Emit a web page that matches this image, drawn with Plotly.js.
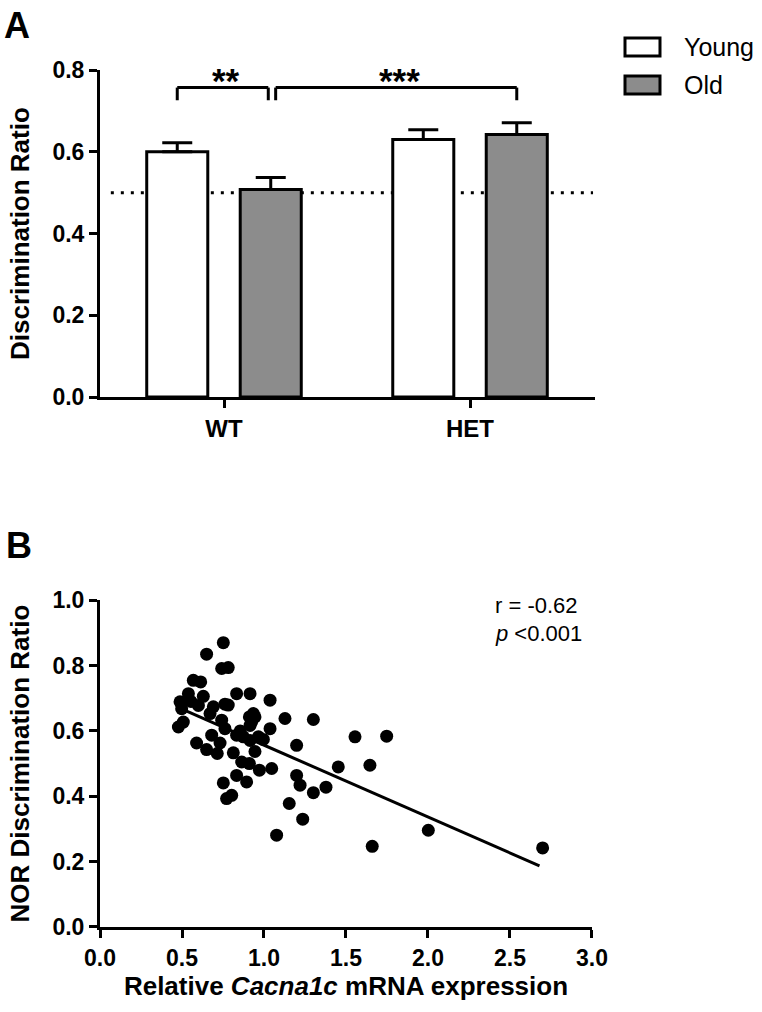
<!DOCTYPE html>
<html>
<head>
<meta charset="utf-8">
<script src="https://cdn.plot.ly/plotly-3.0.1.min.js"></script>
<style>html,body{margin:0;padding:0;background:#fff}#chart{width:762px;height:1012px}</style>
</head>
<body>
<div id="chart"></div>
<script>
// ---- Panel A data ----
const genotypes = ['WT', 'HET'];
const youngMean = [0.600, 0.630];
const youngSem  = [0.022, 0.024];
const oldMean   = [0.508, 0.642];
const oldSem    = [0.029, 0.029];
const chanceLevel = 0.5;

// ---- Panel B data ----
const mrnaX = [0.752,0.650,0.742,0.782,0.569,0.614,0.488,0.539,0.630,0.498,0.600,0.478,0.508,0.691,0.671,0.762,0.782,0.833,0.915,1.037,
  0.742,0.762,0.911,0.935,0.945,0.915,1.037,1.128,1.301,0.589,0.681,0.732,0.650,0.715,0.833,0.874,0.915,0.966,0.996,0.813,
  0.945,0.864,0.911,0.972,1.047,1.199,0.833,0.894,0.752,0.772,0.803,1.199,1.220,1.301,1.378,1.154,1.236,1.453,1.555,1.646,
  1.748,1.077,2.002,1.660,2.699,0.925,0.555,0.855];
const norY  = [0.870,0.835,0.791,0.794,0.755,0.750,0.689,0.714,0.706,0.668,0.678,0.612,0.627,0.674,0.653,0.682,0.679,0.714,0.714,0.694,
  0.633,0.607,0.643,0.653,0.643,0.617,0.607,0.638,0.635,0.563,0.587,0.563,0.543,0.531,0.587,0.582,0.571,0.582,0.574,0.533,
  0.537,0.505,0.500,0.480,0.485,0.556,0.464,0.444,0.441,0.393,0.403,0.464,0.434,0.411,0.428,0.378,0.330,0.490,0.582,0.495,
  0.584,0.281,0.296,0.247,0.242,0.628,0.690,0.600];
const fitX = [0.48, 2.68];
const fitY = [0.671, 0.187];
const rText = 'r = -0.62';
const pText = '<i>p</i> &lt;0.001';

const FONT = 'Liberation Sans, Arial, sans-serif';
const GRAY = '#8c8c8c';

const traces = [
  {type:'bar', name:'Young', x:genotypes, y:youngMean, xaxis:'x', yaxis:'y',
   marker:{color:'#ffffff', line:{color:'#000', width:3}},
   error_y:{type:'data', array:youngSem, arrayminus:[0,0], symmetric:false, color:'#000', thickness:3, width:15},
   showlegend:false},
  {type:'bar', name:'Old', x:genotypes, y:oldMean, xaxis:'x', yaxis:'y',
   marker:{color:GRAY, line:{color:'#000', width:3}},
   error_y:{type:'data', array:oldSem, arrayminus:[0,0], symmetric:false, color:'#000', thickness:3, width:15},
   showlegend:false},
  {type:'scatter', mode:'markers', x:mrnaX, y:norY, xaxis:'x2', yaxis:'y2',
   marker:{color:'#000', size:13}, showlegend:false},
  {type:'scatter', mode:'lines', x:fitX, y:fitY, xaxis:'x2', yaxis:'y2',
   line:{color:'#000', width:3}, showlegend:false}
];

const tickF = {family:FONT, size:23, color:'#000', weight:'bold'};
const titleF = {family:FONT, size:26, color:'#000', weight:'bold'};

function bracket(x0, x1, yTop, yBot){
  const ln = {color:'#000', width:3};
  return [
    {type:'line', xref:'x', yref:'y', x0:x0, x1:x0, y0:yBot, y1:yTop, line:ln},
    {type:'line', xref:'x', yref:'y', x0:x0, x1:x1, y0:yTop, y1:yTop, line:ln},
    {type:'line', xref:'x', yref:'y', x0:x1, x1:x1, y0:yTop, y1:yBot, line:ln}
  ];
}

const shapes = [
  {type:'line', layer:'below', xref:'x', yref:'y', x0:-0.46, x1:1.5, y0:chanceLevel, y1:chanceLevel,
   line:{color:'#000', width:3, dash:'3px,7px'}},
  ...bracket(-0.19, 0.18, 0.757, 0.726),
  ...bracket(0.21, 1.19, 0.757, 0.726),
  // legend boxes
  {type:'rect', xref:'paper', yref:'paper', x0:1.0606, x1:1.1313, y0:1.0163, y1:1.0373,
   fillcolor:'#fff', line:{color:'#000', width:3}},
  {type:'rect', xref:'paper', yref:'paper', x0:1.0606, x1:1.1313, y0:0.9720, y1:0.9930,
   fillcolor:GRAY, line:{color:'#000', width:3}}
];

const annotations = [
  {text:'<b>A</b>', xref:'paper', yref:'paper', x:-0.198, y:1.0514, xanchor:'left', yanchor:'middle', showarrow:false,
   font:{family:FONT, size:36, color:'#000'}},
  {text:'<b>B</b>', xref:'paper', yref:'paper', x:-0.194, y:0.4456, xanchor:'left', yanchor:'middle', showarrow:false,
   font:{family:FONT, size:36, color:'#000'}},
  {text:'<b>**</b>', xref:'x', yref:'y', x:0.01, y:0.775, xanchor:'center', yanchor:'middle', showarrow:false,
   font:{family:FONT, size:35, color:'#000'}},
  {text:'<b>***</b>', xref:'x', yref:'y', x:0.715, y:0.775, xanchor:'center', yanchor:'middle', showarrow:false,
   font:{family:FONT, size:35, color:'#000'}},
  {text:'Young', xref:'paper', yref:'paper', x:1.1758, y:1.0268, xanchor:'left', yanchor:'middle', showarrow:false,
   font:{family:FONT, size:25, color:'#000'}},
  {text:'Old', xref:'paper', yref:'paper', x:1.1758, y:0.9825, xanchor:'left', yanchor:'middle', showarrow:false,
   font:{family:FONT, size:25, color:'#000'}},
  {text:rText, xref:'x2', yref:'y2', x:2.396, y:0.985, xanchor:'left', yanchor:'middle', showarrow:false,
   font:{family:FONT, size:22, color:'#000'}},
  {text:pText, xref:'x2', yref:'y2', x:2.396, y:0.899, xanchor:'left', yanchor:'middle', showarrow:false,
   font:{family:FONT, size:22, color:'#000'}}
];

const layout = {
  width:762, height:1012,
  margin:{l:100, r:167, t:70, b:85.3},
  paper_bgcolor:'#fff', plot_bgcolor:'rgba(0,0,0,0)',
  barmode:'group', bargap:0.24, bargroupgap:0.347,
  showlegend:false,
  xaxis:{domain:[0,1], anchor:'y', type:'category', range:[-0.504, 1.508],
    showline:true, linecolor:'#000', linewidth:3, ticks:'outside', ticklen:8, tickwidth:3, tickcolor:'#000',
    showgrid:false, zeroline:false, tickfont:{family:FONT, size:24, color:'#000', weight:'bold'}, fixedrange:true},
  yaxis:{domain:[0.6183,1], anchor:'x', range:[0,0.8], tickvals:[0,0.2,0.4,0.6,0.8], tickformat:'.1f',
    showline:true, linecolor:'#000', linewidth:3, ticks:'outside', ticklen:8, tickwidth:3, tickcolor:'#000',
    showgrid:false, zeroline:false, tickfont:tickF,
    title:{text:'Discrimination Ratio', font:titleF, standoff:16}},
  xaxis2:{domain:[0,0.9939], anchor:'y2', range:[0,3], tickvals:[0,0.5,1,1.5,2,2.5,3], tickformat:'.1f',
    showline:true, linecolor:'#000', linewidth:3, ticks:'outside', ticklen:8, tickwidth:3, tickcolor:'#000',
    showgrid:false, zeroline:false, tickfont:tickF,
    title:{text:'Relative <i>Cacna1c</i> mRNA expression', font:titleF, standoff:8}},
  yaxis2:{domain:[0,0.3813], anchor:'x2', range:[0,1], tickvals:[0,0.2,0.4,0.6,0.8,1.0], tickformat:'.1f',
    showline:true, linecolor:'#000', linewidth:3, ticks:'outside', ticklen:8, tickwidth:3, tickcolor:'#000',
    showgrid:false, zeroline:false, tickfont:tickF,
    title:{text:'NOR Discrimination Ratio', font:titleF, standoff:16}},
  shapes:shapes,
  annotations:annotations
};

Plotly.newPlot('chart', traces, layout, {staticPlot:true, displayModeBar:false});
</script>
</body>
</html>
